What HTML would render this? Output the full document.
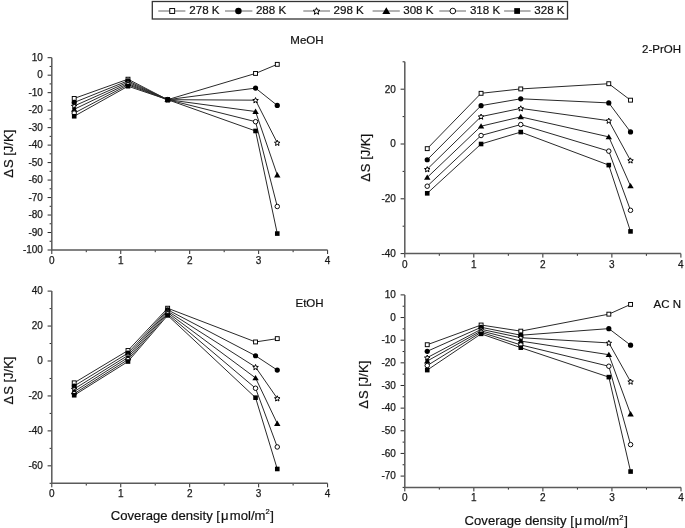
<!DOCTYPE html>
<html><head><meta charset="utf-8"><title>Entropy plots</title>
<style>
html,body{margin:0;padding:0;background:#fff;}
svg{display:block;filter:blur(0.3px);}
text{font-family:"Liberation Sans", sans-serif;}
</style></head><body>

<svg width="685" height="528" viewBox="0 0 685 528">
<rect width="685" height="528" fill="#fff"/>
<g><line x1="47.6" y1="250" x2="51.8" y2="250" stroke="#2a2a2a" stroke-width="1"/><text x="42.9" y="253.3" font-size="10" text-anchor="end" fill="#1a1a1a" stroke="#1a1a1a" stroke-width="0.25">-100</text><line x1="49.6" y1="241.26" x2="51.8" y2="241.26" stroke="#2a2a2a" stroke-width="1"/><line x1="47.6" y1="232.52" x2="51.8" y2="232.52" stroke="#2a2a2a" stroke-width="1"/><text x="42.9" y="235.82" font-size="10" text-anchor="end" fill="#1a1a1a" stroke="#1a1a1a" stroke-width="0.25">-90</text><line x1="49.6" y1="223.78" x2="51.8" y2="223.78" stroke="#2a2a2a" stroke-width="1"/><line x1="47.6" y1="215.04" x2="51.8" y2="215.04" stroke="#2a2a2a" stroke-width="1"/><text x="42.9" y="218.34" font-size="10" text-anchor="end" fill="#1a1a1a" stroke="#1a1a1a" stroke-width="0.25">-80</text><line x1="49.6" y1="206.3" x2="51.8" y2="206.3" stroke="#2a2a2a" stroke-width="1"/><line x1="47.6" y1="197.55" x2="51.8" y2="197.55" stroke="#2a2a2a" stroke-width="1"/><text x="42.9" y="200.85" font-size="10" text-anchor="end" fill="#1a1a1a" stroke="#1a1a1a" stroke-width="0.25">-70</text><line x1="49.6" y1="188.81" x2="51.8" y2="188.81" stroke="#2a2a2a" stroke-width="1"/><line x1="47.6" y1="180.07" x2="51.8" y2="180.07" stroke="#2a2a2a" stroke-width="1"/><text x="42.9" y="183.37" font-size="10" text-anchor="end" fill="#1a1a1a" stroke="#1a1a1a" stroke-width="0.25">-60</text><line x1="49.6" y1="171.33" x2="51.8" y2="171.33" stroke="#2a2a2a" stroke-width="1"/><line x1="47.6" y1="162.59" x2="51.8" y2="162.59" stroke="#2a2a2a" stroke-width="1"/><text x="42.9" y="165.89" font-size="10" text-anchor="end" fill="#1a1a1a" stroke="#1a1a1a" stroke-width="0.25">-50</text><line x1="49.6" y1="153.85" x2="51.8" y2="153.85" stroke="#2a2a2a" stroke-width="1"/><line x1="47.6" y1="145.11" x2="51.8" y2="145.11" stroke="#2a2a2a" stroke-width="1"/><text x="42.9" y="148.41" font-size="10" text-anchor="end" fill="#1a1a1a" stroke="#1a1a1a" stroke-width="0.25">-40</text><line x1="49.6" y1="136.37" x2="51.8" y2="136.37" stroke="#2a2a2a" stroke-width="1"/><line x1="47.6" y1="127.63" x2="51.8" y2="127.63" stroke="#2a2a2a" stroke-width="1"/><text x="42.9" y="130.93" font-size="10" text-anchor="end" fill="#1a1a1a" stroke="#1a1a1a" stroke-width="0.25">-30</text><line x1="49.6" y1="118.89" x2="51.8" y2="118.89" stroke="#2a2a2a" stroke-width="1"/><line x1="47.6" y1="110.15" x2="51.8" y2="110.15" stroke="#2a2a2a" stroke-width="1"/><text x="42.9" y="113.45" font-size="10" text-anchor="end" fill="#1a1a1a" stroke="#1a1a1a" stroke-width="0.25">-20</text><line x1="49.6" y1="101.4" x2="51.8" y2="101.4" stroke="#2a2a2a" stroke-width="1"/><line x1="47.6" y1="92.66" x2="51.8" y2="92.66" stroke="#2a2a2a" stroke-width="1"/><text x="42.9" y="95.96" font-size="10" text-anchor="end" fill="#1a1a1a" stroke="#1a1a1a" stroke-width="0.25">-10</text><line x1="49.6" y1="83.92" x2="51.8" y2="83.92" stroke="#2a2a2a" stroke-width="1"/><line x1="47.6" y1="75.18" x2="51.8" y2="75.18" stroke="#2a2a2a" stroke-width="1"/><text x="42.9" y="78.48" font-size="10" text-anchor="end" fill="#1a1a1a" stroke="#1a1a1a" stroke-width="0.25">0</text><line x1="49.6" y1="66.44" x2="51.8" y2="66.44" stroke="#2a2a2a" stroke-width="1"/><line x1="47.6" y1="57.7" x2="51.8" y2="57.7" stroke="#2a2a2a" stroke-width="1"/><text x="42.9" y="61" font-size="10" text-anchor="end" fill="#1a1a1a" stroke="#1a1a1a" stroke-width="0.25">10</text><line x1="51.8" y1="250" x2="51.8" y2="254" stroke="#2a2a2a" stroke-width="1"/><text x="51.8" y="263.9" font-size="10" text-anchor="middle" fill="#1a1a1a" stroke="#1a1a1a" stroke-width="0.25">0</text><line x1="86.28" y1="250" x2="86.28" y2="252.2" stroke="#2a2a2a" stroke-width="1"/><line x1="120.75" y1="250" x2="120.75" y2="254" stroke="#2a2a2a" stroke-width="1"/><text x="120.75" y="263.9" font-size="10" text-anchor="middle" fill="#1a1a1a" stroke="#1a1a1a" stroke-width="0.25">1</text><line x1="155.23" y1="250" x2="155.23" y2="252.2" stroke="#2a2a2a" stroke-width="1"/><line x1="189.7" y1="250" x2="189.7" y2="254" stroke="#2a2a2a" stroke-width="1"/><text x="189.7" y="263.9" font-size="10" text-anchor="middle" fill="#1a1a1a" stroke="#1a1a1a" stroke-width="0.25">2</text><line x1="224.18" y1="250" x2="224.18" y2="252.2" stroke="#2a2a2a" stroke-width="1"/><line x1="258.65" y1="250" x2="258.65" y2="254" stroke="#2a2a2a" stroke-width="1"/><text x="258.65" y="263.9" font-size="10" text-anchor="middle" fill="#1a1a1a" stroke="#1a1a1a" stroke-width="0.25">3</text><line x1="293.12" y1="250" x2="293.12" y2="252.2" stroke="#2a2a2a" stroke-width="1"/><line x1="327.6" y1="250" x2="327.6" y2="254" stroke="#2a2a2a" stroke-width="1"/><text x="327.6" y="263.9" font-size="10" text-anchor="middle" fill="#1a1a1a" stroke="#1a1a1a" stroke-width="0.25">4</text><path d="M51.8 57.7 V250 H327.6" fill="none" stroke="#5a5a5a" stroke-width="1.5"/><polyline points="74.21,98.43 127.99,79.2 167.64,99.66 255.55,73.43 277.27,64.34" fill="none" stroke="#2a2a2a" stroke-width="1.0"/><polyline points="74.21,102.45 127.99,80.78 167.64,99.66 255.55,88.12 277.27,105.43" fill="none" stroke="#2a2a2a" stroke-width="1.0"/><polyline points="74.21,105.95 127.99,82.17 167.64,99.66 255.55,100.18 277.27,142.84" fill="none" stroke="#2a2a2a" stroke-width="1.0"/><polyline points="74.21,109.27 127.99,83.57 167.64,99.66 255.55,111.54 277.27,175" fill="none" stroke="#2a2a2a" stroke-width="1.0"/><polyline points="74.21,113.12 127.99,84.8 167.64,99.66 255.55,121.68 277.27,206.47" fill="none" stroke="#2a2a2a" stroke-width="1.0"/><polyline points="74.21,116.26 127.99,86.2 167.64,99.66 255.55,130.95 277.27,233.57" fill="none" stroke="#2a2a2a" stroke-width="1.0"/><rect x="72.26" y="96.48" width="3.9" height="3.9" fill="#fff" stroke="#000" stroke-width="0.95"/><rect x="126.04" y="77.25" width="3.9" height="3.9" fill="#fff" stroke="#000" stroke-width="0.95"/><rect x="165.69" y="97.71" width="3.9" height="3.9" fill="#fff" stroke="#000" stroke-width="0.95"/><rect x="253.6" y="71.48" width="3.9" height="3.9" fill="#fff" stroke="#000" stroke-width="0.95"/><rect x="275.32" y="62.39" width="3.9" height="3.9" fill="#fff" stroke="#000" stroke-width="0.95"/><circle cx="74.21" cy="102.45" r="2.6" fill="#000"/><circle cx="127.99" cy="80.78" r="2.6" fill="#000"/><circle cx="167.64" cy="99.66" r="2.6" fill="#000"/><circle cx="255.55" cy="88.12" r="2.6" fill="#000"/><circle cx="277.27" cy="105.43" r="2.6" fill="#000"/><polygon points="74.21,103.35 74.98,105.19 76.97,105.35 75.45,106.65 75.91,108.6 74.21,107.55 72.5,108.6 72.97,106.65 71.45,105.35 73.44,105.19" fill="#fff" stroke="#000" stroke-width="1.0"/><polygon points="127.99,79.57 128.76,81.42 130.75,81.58 129.23,82.88 129.69,84.82 127.99,83.78 126.29,84.82 126.75,82.88 125.23,81.58 127.22,81.42" fill="#fff" stroke="#000" stroke-width="1.0"/><polygon points="167.64,97.06 168.4,98.9 170.39,99.06 168.88,100.36 169.34,102.3 167.64,101.26 165.93,102.3 166.39,100.36 164.88,99.06 166.87,98.9" fill="#fff" stroke="#000" stroke-width="1.0"/><polygon points="255.55,97.58 256.31,99.43 258.31,99.58 256.79,100.88 257.25,102.83 255.55,101.79 253.84,102.83 254.31,100.88 252.79,99.58 254.78,99.43" fill="#fff" stroke="#000" stroke-width="1.0"/><polygon points="277.27,140.24 278.03,142.08 280.02,142.24 278.51,143.54 278.97,145.48 277.27,144.44 275.56,145.48 276.03,143.54 274.51,142.24 276.5,142.08" fill="#fff" stroke="#000" stroke-width="1.0"/><polygon points="74.21,106.27 77.41,111.67 71.01,111.67" fill="#000"/><polygon points="127.99,80.57 131.19,85.97 124.79,85.97" fill="#000"/><polygon points="167.64,96.66 170.84,102.06 164.44,102.06" fill="#000"/><polygon points="255.55,108.54 258.75,113.94 252.35,113.94" fill="#000"/><polygon points="277.27,172 280.47,177.4 274.07,177.4" fill="#000"/><circle cx="74.21" cy="113.12" r="2.25" fill="#fff" stroke="#000" stroke-width="0.95"/><circle cx="127.99" cy="84.8" r="2.25" fill="#fff" stroke="#000" stroke-width="0.95"/><circle cx="167.64" cy="99.66" r="2.25" fill="#fff" stroke="#000" stroke-width="0.95"/><circle cx="255.55" cy="121.68" r="2.25" fill="#fff" stroke="#000" stroke-width="0.95"/><circle cx="277.27" cy="206.47" r="2.25" fill="#fff" stroke="#000" stroke-width="0.95"/><rect x="71.91" y="113.96" width="4.6" height="4.6" fill="#000"/><rect x="125.69" y="83.9" width="4.6" height="4.6" fill="#000"/><rect x="165.34" y="97.36" width="4.6" height="4.6" fill="#000"/><rect x="253.25" y="128.65" width="4.6" height="4.6" fill="#000"/><rect x="274.97" y="231.27" width="4.6" height="4.6" fill="#000"/><text x="323.6" y="44" font-size="11.5" text-anchor="end" fill="#111" stroke="#111" stroke-width="0.2">MeOH</text><text transform="translate(12.7 153.7) rotate(-90)" font-size="13" text-anchor="middle" fill="#111" stroke="#111" stroke-width="0.2">Δ<tspan dx="0.9">S [J/K]</tspan></text></g>
<g><line x1="400.6" y1="253.6" x2="404.8" y2="253.6" stroke="#2a2a2a" stroke-width="1"/><text x="395.9" y="256.9" font-size="10" text-anchor="end" fill="#1a1a1a" stroke="#1a1a1a" stroke-width="0.25">-40</text><line x1="402.6" y1="226.2" x2="404.8" y2="226.2" stroke="#2a2a2a" stroke-width="1"/><line x1="400.6" y1="198.8" x2="404.8" y2="198.8" stroke="#2a2a2a" stroke-width="1"/><text x="395.9" y="202.1" font-size="10" text-anchor="end" fill="#1a1a1a" stroke="#1a1a1a" stroke-width="0.25">-20</text><line x1="402.6" y1="171.4" x2="404.8" y2="171.4" stroke="#2a2a2a" stroke-width="1"/><line x1="400.6" y1="144" x2="404.8" y2="144" stroke="#2a2a2a" stroke-width="1"/><text x="395.9" y="147.3" font-size="10" text-anchor="end" fill="#1a1a1a" stroke="#1a1a1a" stroke-width="0.25">0</text><line x1="402.6" y1="116.6" x2="404.8" y2="116.6" stroke="#2a2a2a" stroke-width="1"/><line x1="400.6" y1="89.2" x2="404.8" y2="89.2" stroke="#2a2a2a" stroke-width="1"/><text x="395.9" y="92.5" font-size="10" text-anchor="end" fill="#1a1a1a" stroke="#1a1a1a" stroke-width="0.25">20</text><line x1="402.6" y1="61.8" x2="404.8" y2="61.8" stroke="#2a2a2a" stroke-width="1"/><line x1="404.8" y1="253.6" x2="404.8" y2="257.6" stroke="#2a2a2a" stroke-width="1"/><text x="404.8" y="267.5" font-size="10" text-anchor="middle" fill="#1a1a1a" stroke="#1a1a1a" stroke-width="0.25">0</text><line x1="439.31" y1="253.6" x2="439.31" y2="255.8" stroke="#2a2a2a" stroke-width="1"/><line x1="473.82" y1="253.6" x2="473.82" y2="257.6" stroke="#2a2a2a" stroke-width="1"/><text x="473.82" y="267.5" font-size="10" text-anchor="middle" fill="#1a1a1a" stroke="#1a1a1a" stroke-width="0.25">1</text><line x1="508.34" y1="253.6" x2="508.34" y2="255.8" stroke="#2a2a2a" stroke-width="1"/><line x1="542.85" y1="253.6" x2="542.85" y2="257.6" stroke="#2a2a2a" stroke-width="1"/><text x="542.85" y="267.5" font-size="10" text-anchor="middle" fill="#1a1a1a" stroke="#1a1a1a" stroke-width="0.25">2</text><line x1="577.36" y1="253.6" x2="577.36" y2="255.8" stroke="#2a2a2a" stroke-width="1"/><line x1="611.88" y1="253.6" x2="611.88" y2="257.6" stroke="#2a2a2a" stroke-width="1"/><text x="611.88" y="267.5" font-size="10" text-anchor="middle" fill="#1a1a1a" stroke="#1a1a1a" stroke-width="0.25">3</text><line x1="646.39" y1="253.6" x2="646.39" y2="255.8" stroke="#2a2a2a" stroke-width="1"/><line x1="680.9" y1="253.6" x2="680.9" y2="257.6" stroke="#2a2a2a" stroke-width="1"/><text x="680.9" y="267.5" font-size="10" text-anchor="middle" fill="#1a1a1a" stroke="#1a1a1a" stroke-width="0.25">4</text><path d="M404.8 61.8 V253.6 H680.9" fill="none" stroke="#5a5a5a" stroke-width="1.5"/><polyline points="427.23,148.66 481.07,93.31 520.76,88.93 608.77,83.72 630.51,100.16" fill="none" stroke="#2a2a2a" stroke-width="1.0"/><polyline points="427.23,159.75 481.07,105.64 520.76,98.79 608.77,102.9 630.51,131.94" fill="none" stroke="#2a2a2a" stroke-width="1.0"/><polyline points="427.23,169.21 481.07,116.6 520.76,108.38 608.77,120.71 630.51,160.44" fill="none" stroke="#2a2a2a" stroke-width="1.0"/><polyline points="427.23,177.43 481.07,126.19 520.76,116.87 608.77,136.88 630.51,185.92" fill="none" stroke="#2a2a2a" stroke-width="1.0"/><polyline points="427.23,186.2 481.07,135.51 520.76,124.55 608.77,151.12 630.51,210.31" fill="none" stroke="#2a2a2a" stroke-width="1.0"/><polyline points="427.23,193.32 481.07,144 520.76,132.08 608.77,165.1 630.51,231.41" fill="none" stroke="#2a2a2a" stroke-width="1.0"/><rect x="425.28" y="146.71" width="3.9" height="3.9" fill="#fff" stroke="#000" stroke-width="0.95"/><rect x="479.12" y="91.36" width="3.9" height="3.9" fill="#fff" stroke="#000" stroke-width="0.95"/><rect x="518.81" y="86.98" width="3.9" height="3.9" fill="#fff" stroke="#000" stroke-width="0.95"/><rect x="606.82" y="81.77" width="3.9" height="3.9" fill="#fff" stroke="#000" stroke-width="0.95"/><rect x="628.56" y="98.21" width="3.9" height="3.9" fill="#fff" stroke="#000" stroke-width="0.95"/><circle cx="427.23" cy="159.75" r="2.6" fill="#000"/><circle cx="481.07" cy="105.64" r="2.6" fill="#000"/><circle cx="520.76" cy="98.79" r="2.6" fill="#000"/><circle cx="608.77" cy="102.9" r="2.6" fill="#000"/><circle cx="630.51" cy="131.94" r="2.6" fill="#000"/><polygon points="427.23,166.61 428,168.45 429.99,168.61 428.47,169.91 428.94,171.85 427.23,170.81 425.53,171.85 425.99,169.91 424.48,168.61 426.47,168.45" fill="#fff" stroke="#000" stroke-width="1.0"/><polygon points="481.07,114 481.84,115.84 483.83,116 482.31,117.3 482.78,119.25 481.07,118.2 479.37,119.25 479.83,117.3 478.31,116 480.31,115.84" fill="#fff" stroke="#000" stroke-width="1.0"/><polygon points="520.76,105.78 521.53,107.62 523.52,107.78 522,109.08 522.47,111.03 520.76,109.98 519.06,111.03 519.52,109.08 518,107.78 519.99,107.62" fill="#fff" stroke="#000" stroke-width="1.0"/><polygon points="608.77,118.11 609.54,119.95 611.53,120.11 610.01,121.41 610.47,123.36 608.77,122.31 607.06,123.36 607.53,121.41 606.01,120.11 608,119.95" fill="#fff" stroke="#000" stroke-width="1.0"/><polygon points="630.51,157.84 631.28,159.68 633.27,159.84 631.75,161.14 632.22,163.09 630.51,162.05 628.81,163.09 629.27,161.14 627.75,159.84 629.74,159.68" fill="#fff" stroke="#000" stroke-width="1.0"/><polygon points="427.23,174.43 430.43,179.83 424.03,179.83" fill="#000"/><polygon points="481.07,123.19 484.27,128.59 477.87,128.59" fill="#000"/><polygon points="520.76,113.87 523.96,119.27 517.56,119.27" fill="#000"/><polygon points="608.77,133.88 611.97,139.28 605.57,139.28" fill="#000"/><polygon points="630.51,182.92 633.71,188.32 627.31,188.32" fill="#000"/><circle cx="427.23" cy="186.2" r="2.25" fill="#fff" stroke="#000" stroke-width="0.95"/><circle cx="481.07" cy="135.51" r="2.25" fill="#fff" stroke="#000" stroke-width="0.95"/><circle cx="520.76" cy="124.55" r="2.25" fill="#fff" stroke="#000" stroke-width="0.95"/><circle cx="608.77" cy="151.12" r="2.25" fill="#fff" stroke="#000" stroke-width="0.95"/><circle cx="630.51" cy="210.31" r="2.25" fill="#fff" stroke="#000" stroke-width="0.95"/><rect x="424.93" y="191.02" width="4.6" height="4.6" fill="#000"/><rect x="478.77" y="141.7" width="4.6" height="4.6" fill="#000"/><rect x="518.46" y="129.78" width="4.6" height="4.6" fill="#000"/><rect x="606.47" y="162.8" width="4.6" height="4.6" fill="#000"/><rect x="628.21" y="229.11" width="4.6" height="4.6" fill="#000"/><text x="681" y="52.7" font-size="11.5" text-anchor="end" fill="#111" stroke="#111" stroke-width="0.2">2-PrOH</text><text transform="translate(369.6 157.8) rotate(-90)" font-size="13" text-anchor="middle" fill="#111" stroke="#111" stroke-width="0.2">Δ<tspan dx="0.9">S [J/K]</tspan></text></g>
<g><line x1="49.6" y1="483.3" x2="51.8" y2="483.3" stroke="#2a2a2a" stroke-width="1"/><line x1="47.6" y1="465.83" x2="51.8" y2="465.83" stroke="#2a2a2a" stroke-width="1"/><text x="42.9" y="469.13" font-size="10" text-anchor="end" fill="#1a1a1a" stroke="#1a1a1a" stroke-width="0.25">-60</text><line x1="49.6" y1="448.35" x2="51.8" y2="448.35" stroke="#2a2a2a" stroke-width="1"/><line x1="47.6" y1="430.88" x2="51.8" y2="430.88" stroke="#2a2a2a" stroke-width="1"/><text x="42.9" y="434.18" font-size="10" text-anchor="end" fill="#1a1a1a" stroke="#1a1a1a" stroke-width="0.25">-40</text><line x1="49.6" y1="413.41" x2="51.8" y2="413.41" stroke="#2a2a2a" stroke-width="1"/><line x1="47.6" y1="395.94" x2="51.8" y2="395.94" stroke="#2a2a2a" stroke-width="1"/><text x="42.9" y="399.24" font-size="10" text-anchor="end" fill="#1a1a1a" stroke="#1a1a1a" stroke-width="0.25">-20</text><line x1="49.6" y1="378.46" x2="51.8" y2="378.46" stroke="#2a2a2a" stroke-width="1"/><line x1="47.6" y1="360.99" x2="51.8" y2="360.99" stroke="#2a2a2a" stroke-width="1"/><text x="42.9" y="364.29" font-size="10" text-anchor="end" fill="#1a1a1a" stroke="#1a1a1a" stroke-width="0.25">0</text><line x1="49.6" y1="343.52" x2="51.8" y2="343.52" stroke="#2a2a2a" stroke-width="1"/><line x1="47.6" y1="326.05" x2="51.8" y2="326.05" stroke="#2a2a2a" stroke-width="1"/><text x="42.9" y="329.35" font-size="10" text-anchor="end" fill="#1a1a1a" stroke="#1a1a1a" stroke-width="0.25">20</text><line x1="49.6" y1="308.57" x2="51.8" y2="308.57" stroke="#2a2a2a" stroke-width="1"/><line x1="47.6" y1="291.1" x2="51.8" y2="291.1" stroke="#2a2a2a" stroke-width="1"/><text x="42.9" y="294.4" font-size="10" text-anchor="end" fill="#1a1a1a" stroke="#1a1a1a" stroke-width="0.25">40</text><line x1="51.8" y1="483.3" x2="51.8" y2="487.3" stroke="#2a2a2a" stroke-width="1"/><text x="51.8" y="497.2" font-size="10" text-anchor="middle" fill="#1a1a1a" stroke="#1a1a1a" stroke-width="0.25">0</text><line x1="86.28" y1="483.3" x2="86.28" y2="485.5" stroke="#2a2a2a" stroke-width="1"/><line x1="120.75" y1="483.3" x2="120.75" y2="487.3" stroke="#2a2a2a" stroke-width="1"/><text x="120.75" y="497.2" font-size="10" text-anchor="middle" fill="#1a1a1a" stroke="#1a1a1a" stroke-width="0.25">1</text><line x1="155.23" y1="483.3" x2="155.23" y2="485.5" stroke="#2a2a2a" stroke-width="1"/><line x1="189.7" y1="483.3" x2="189.7" y2="487.3" stroke="#2a2a2a" stroke-width="1"/><text x="189.7" y="497.2" font-size="10" text-anchor="middle" fill="#1a1a1a" stroke="#1a1a1a" stroke-width="0.25">2</text><line x1="224.18" y1="483.3" x2="224.18" y2="485.5" stroke="#2a2a2a" stroke-width="1"/><line x1="258.65" y1="483.3" x2="258.65" y2="487.3" stroke="#2a2a2a" stroke-width="1"/><text x="258.65" y="497.2" font-size="10" text-anchor="middle" fill="#1a1a1a" stroke="#1a1a1a" stroke-width="0.25">3</text><line x1="293.12" y1="483.3" x2="293.12" y2="485.5" stroke="#2a2a2a" stroke-width="1"/><line x1="327.6" y1="483.3" x2="327.6" y2="487.3" stroke="#2a2a2a" stroke-width="1"/><text x="327.6" y="497.2" font-size="10" text-anchor="middle" fill="#1a1a1a" stroke="#1a1a1a" stroke-width="0.25">4</text><path d="M51.8 291.1 V483.3 H327.6" fill="none" stroke="#5a5a5a" stroke-width="1.5"/><polyline points="74.21,382.83 127.99,350.51 167.64,308.22 255.55,341.95 277.27,338.63" fill="none" stroke="#2a2a2a" stroke-width="1.0"/><polyline points="74.21,385.98 127.99,353.13 167.64,309.8 255.55,355.75 277.27,370.08" fill="none" stroke="#2a2a2a" stroke-width="1.0"/><polyline points="74.21,388.95 127.99,355.4 167.64,311.19 255.55,367.11 277.27,398.38" fill="none" stroke="#2a2a2a" stroke-width="1.0"/><polyline points="74.21,391.57 127.99,357.5 167.64,312.59 255.55,377.94 277.27,423.54" fill="none" stroke="#2a2a2a" stroke-width="1.0"/><polyline points="74.21,393.66 127.99,359.59 167.64,313.99 255.55,388.25 277.27,446.96" fill="none" stroke="#2a2a2a" stroke-width="1.0"/><polyline points="74.21,395.24 127.99,361.52 167.64,315.39 255.55,397.68 277.27,468.97" fill="none" stroke="#2a2a2a" stroke-width="1.0"/><rect x="72.26" y="380.88" width="3.9" height="3.9" fill="#fff" stroke="#000" stroke-width="0.95"/><rect x="126.04" y="348.56" width="3.9" height="3.9" fill="#fff" stroke="#000" stroke-width="0.95"/><rect x="165.69" y="306.27" width="3.9" height="3.9" fill="#fff" stroke="#000" stroke-width="0.95"/><rect x="253.6" y="340" width="3.9" height="3.9" fill="#fff" stroke="#000" stroke-width="0.95"/><rect x="275.32" y="336.68" width="3.9" height="3.9" fill="#fff" stroke="#000" stroke-width="0.95"/><circle cx="74.21" cy="385.98" r="2.6" fill="#000"/><circle cx="127.99" cy="353.13" r="2.6" fill="#000"/><circle cx="167.64" cy="309.8" r="2.6" fill="#000"/><circle cx="255.55" cy="355.75" r="2.6" fill="#000"/><circle cx="277.27" cy="370.08" r="2.6" fill="#000"/><polygon points="74.21,386.35 74.98,388.19 76.97,388.35 75.45,389.65 75.91,391.59 74.21,390.55 72.5,391.59 72.97,389.65 71.45,388.35 73.44,388.19" fill="#fff" stroke="#000" stroke-width="1.0"/><polygon points="127.99,352.8 128.76,354.64 130.75,354.8 129.23,356.1 129.69,358.05 127.99,357 126.29,358.05 126.75,356.1 125.23,354.8 127.22,354.64" fill="#fff" stroke="#000" stroke-width="1.0"/><polygon points="167.64,308.59 168.4,310.44 170.39,310.6 168.88,311.9 169.34,313.84 167.64,312.8 165.93,313.84 166.39,311.9 164.88,310.6 166.87,310.44" fill="#fff" stroke="#000" stroke-width="1.0"/><polygon points="255.55,364.51 256.31,366.35 258.31,366.51 256.79,367.81 257.25,369.75 255.55,368.71 253.84,369.75 254.31,367.81 252.79,366.51 254.78,366.35" fill="#fff" stroke="#000" stroke-width="1.0"/><polygon points="277.27,395.78 278.03,397.63 280.02,397.79 278.51,399.09 278.97,401.03 277.27,399.99 275.56,401.03 276.03,399.09 274.51,397.79 276.5,397.63" fill="#fff" stroke="#000" stroke-width="1.0"/><polygon points="74.21,388.57 77.41,393.97 71.01,393.97" fill="#000"/><polygon points="127.99,354.5 131.19,359.9 124.79,359.9" fill="#000"/><polygon points="167.64,309.59 170.84,314.99 164.44,314.99" fill="#000"/><polygon points="255.55,374.94 258.75,380.34 252.35,380.34" fill="#000"/><polygon points="277.27,420.54 280.47,425.94 274.07,425.94" fill="#000"/><circle cx="74.21" cy="393.66" r="2.25" fill="#fff" stroke="#000" stroke-width="0.95"/><circle cx="127.99" cy="359.59" r="2.25" fill="#fff" stroke="#000" stroke-width="0.95"/><circle cx="167.64" cy="313.99" r="2.25" fill="#fff" stroke="#000" stroke-width="0.95"/><circle cx="255.55" cy="388.25" r="2.25" fill="#fff" stroke="#000" stroke-width="0.95"/><circle cx="277.27" cy="446.96" r="2.25" fill="#fff" stroke="#000" stroke-width="0.95"/><rect x="71.91" y="392.94" width="4.6" height="4.6" fill="#000"/><rect x="125.69" y="359.22" width="4.6" height="4.6" fill="#000"/><rect x="165.34" y="313.09" width="4.6" height="4.6" fill="#000"/><rect x="253.25" y="395.38" width="4.6" height="4.6" fill="#000"/><rect x="274.97" y="466.67" width="4.6" height="4.6" fill="#000"/><text x="323.6" y="307" font-size="11.5" text-anchor="end" fill="#111" stroke="#111" stroke-width="0.2">EtOH</text><text transform="translate(13 380.5) rotate(-90)" font-size="13" text-anchor="middle" fill="#111" stroke="#111" stroke-width="0.2">Δ<tspan dx="0.9">S [J/K]</tspan></text><text x="110.8" y="519.6" font-size="13.1" fill="#111" stroke="#111" stroke-width="0.2">Coverage density [<tspan dx="0.9">μ</tspan><tspan dx="1.4">mol/m</tspan><tspan font-size="7.6" dy="-5.2">2</tspan><tspan dy="5.2" dx="0.6">]</tspan></text></g>
<g><line x1="402.6" y1="487.4" x2="404.8" y2="487.4" stroke="#2a2a2a" stroke-width="1"/><line x1="400.6" y1="476.08" x2="404.8" y2="476.08" stroke="#2a2a2a" stroke-width="1"/><text x="395.9" y="479.38" font-size="10" text-anchor="end" fill="#1a1a1a" stroke="#1a1a1a" stroke-width="0.25">-70</text><line x1="402.6" y1="464.75" x2="404.8" y2="464.75" stroke="#2a2a2a" stroke-width="1"/><line x1="400.6" y1="453.43" x2="404.8" y2="453.43" stroke="#2a2a2a" stroke-width="1"/><text x="395.9" y="456.73" font-size="10" text-anchor="end" fill="#1a1a1a" stroke="#1a1a1a" stroke-width="0.25">-60</text><line x1="402.6" y1="442.11" x2="404.8" y2="442.11" stroke="#2a2a2a" stroke-width="1"/><line x1="400.6" y1="430.78" x2="404.8" y2="430.78" stroke="#2a2a2a" stroke-width="1"/><text x="395.9" y="434.08" font-size="10" text-anchor="end" fill="#1a1a1a" stroke="#1a1a1a" stroke-width="0.25">-50</text><line x1="402.6" y1="419.46" x2="404.8" y2="419.46" stroke="#2a2a2a" stroke-width="1"/><line x1="400.6" y1="408.14" x2="404.8" y2="408.14" stroke="#2a2a2a" stroke-width="1"/><text x="395.9" y="411.44" font-size="10" text-anchor="end" fill="#1a1a1a" stroke="#1a1a1a" stroke-width="0.25">-40</text><line x1="402.6" y1="396.81" x2="404.8" y2="396.81" stroke="#2a2a2a" stroke-width="1"/><line x1="400.6" y1="385.49" x2="404.8" y2="385.49" stroke="#2a2a2a" stroke-width="1"/><text x="395.9" y="388.79" font-size="10" text-anchor="end" fill="#1a1a1a" stroke="#1a1a1a" stroke-width="0.25">-30</text><line x1="402.6" y1="374.16" x2="404.8" y2="374.16" stroke="#2a2a2a" stroke-width="1"/><line x1="400.6" y1="362.84" x2="404.8" y2="362.84" stroke="#2a2a2a" stroke-width="1"/><text x="395.9" y="366.14" font-size="10" text-anchor="end" fill="#1a1a1a" stroke="#1a1a1a" stroke-width="0.25">-20</text><line x1="402.6" y1="351.52" x2="404.8" y2="351.52" stroke="#2a2a2a" stroke-width="1"/><line x1="400.6" y1="340.19" x2="404.8" y2="340.19" stroke="#2a2a2a" stroke-width="1"/><text x="395.9" y="343.49" font-size="10" text-anchor="end" fill="#1a1a1a" stroke="#1a1a1a" stroke-width="0.25">-10</text><line x1="402.6" y1="328.87" x2="404.8" y2="328.87" stroke="#2a2a2a" stroke-width="1"/><line x1="400.6" y1="317.55" x2="404.8" y2="317.55" stroke="#2a2a2a" stroke-width="1"/><text x="395.9" y="320.85" font-size="10" text-anchor="end" fill="#1a1a1a" stroke="#1a1a1a" stroke-width="0.25">0</text><line x1="402.6" y1="306.22" x2="404.8" y2="306.22" stroke="#2a2a2a" stroke-width="1"/><line x1="400.6" y1="294.9" x2="404.8" y2="294.9" stroke="#2a2a2a" stroke-width="1"/><text x="395.9" y="298.2" font-size="10" text-anchor="end" fill="#1a1a1a" stroke="#1a1a1a" stroke-width="0.25">10</text><line x1="404.8" y1="487.4" x2="404.8" y2="491.4" stroke="#2a2a2a" stroke-width="1"/><text x="404.8" y="501.3" font-size="10" text-anchor="middle" fill="#1a1a1a" stroke="#1a1a1a" stroke-width="0.25">0</text><line x1="439.32" y1="487.4" x2="439.32" y2="489.6" stroke="#2a2a2a" stroke-width="1"/><line x1="473.85" y1="487.4" x2="473.85" y2="491.4" stroke="#2a2a2a" stroke-width="1"/><text x="473.85" y="501.3" font-size="10" text-anchor="middle" fill="#1a1a1a" stroke="#1a1a1a" stroke-width="0.25">1</text><line x1="508.38" y1="487.4" x2="508.38" y2="489.6" stroke="#2a2a2a" stroke-width="1"/><line x1="542.9" y1="487.4" x2="542.9" y2="491.4" stroke="#2a2a2a" stroke-width="1"/><text x="542.9" y="501.3" font-size="10" text-anchor="middle" fill="#1a1a1a" stroke="#1a1a1a" stroke-width="0.25">2</text><line x1="577.42" y1="487.4" x2="577.42" y2="489.6" stroke="#2a2a2a" stroke-width="1"/><line x1="611.95" y1="487.4" x2="611.95" y2="491.4" stroke="#2a2a2a" stroke-width="1"/><text x="611.95" y="501.3" font-size="10" text-anchor="middle" fill="#1a1a1a" stroke="#1a1a1a" stroke-width="0.25">3</text><line x1="646.48" y1="487.4" x2="646.48" y2="489.6" stroke="#2a2a2a" stroke-width="1"/><line x1="681" y1="487.4" x2="681" y2="491.4" stroke="#2a2a2a" stroke-width="1"/><text x="681" y="501.3" font-size="10" text-anchor="middle" fill="#1a1a1a" stroke="#1a1a1a" stroke-width="0.25">4</text><path d="M404.8 294.9 V487.4 H681" fill="none" stroke="#5a5a5a" stroke-width="1.5"/><polyline points="427.24,344.72 481.1,325.02 520.8,331.14 608.84,314.15 630.59,304.41" fill="none" stroke="#2a2a2a" stroke-width="1.0"/><polyline points="427.24,351.29 481.1,327.29 520.8,335.21 608.84,328.64 630.59,345.18" fill="none" stroke="#2a2a2a" stroke-width="1.0"/><polyline points="427.24,357.63 481.1,329.32 520.8,337.7 608.84,342.91 630.59,381.64" fill="none" stroke="#2a2a2a" stroke-width="1.0"/><polyline points="427.24,361.03 481.1,330.91 520.8,341.1 608.84,354.69 630.59,414.02" fill="none" stroke="#2a2a2a" stroke-width="1.0"/><polyline points="427.24,365.56 481.1,332.27 520.8,344.95 608.84,366.24 630.59,444.6" fill="none" stroke="#2a2a2a" stroke-width="1.0"/><polyline points="427.24,370.09 481.1,333.85 520.8,347.67 608.84,377.11 630.59,471.55" fill="none" stroke="#2a2a2a" stroke-width="1.0"/><rect x="425.29" y="342.77" width="3.9" height="3.9" fill="#fff" stroke="#000" stroke-width="0.95"/><rect x="479.15" y="323.07" width="3.9" height="3.9" fill="#fff" stroke="#000" stroke-width="0.95"/><rect x="518.85" y="329.19" width="3.9" height="3.9" fill="#fff" stroke="#000" stroke-width="0.95"/><rect x="606.89" y="312.2" width="3.9" height="3.9" fill="#fff" stroke="#000" stroke-width="0.95"/><rect x="628.64" y="302.46" width="3.9" height="3.9" fill="#fff" stroke="#000" stroke-width="0.95"/><circle cx="427.24" cy="351.29" r="2.6" fill="#000"/><circle cx="481.1" cy="327.29" r="2.6" fill="#000"/><circle cx="520.8" cy="335.21" r="2.6" fill="#000"/><circle cx="608.84" cy="328.64" r="2.6" fill="#000"/><circle cx="630.59" cy="345.18" r="2.6" fill="#000"/><polygon points="427.24,355.03 428.01,356.88 430,357.04 428.48,358.34 428.95,360.28 427.24,359.24 425.54,360.28 426,358.34 424.48,357.04 426.47,356.88" fill="#fff" stroke="#000" stroke-width="1.0"/><polygon points="481.1,326.72 481.87,328.57 483.86,328.73 482.34,330.03 482.8,331.97 481.1,330.93 479.4,331.97 479.86,330.03 478.34,328.73 480.33,328.57" fill="#fff" stroke="#000" stroke-width="1.0"/><polygon points="520.8,335.1 521.57,336.95 523.56,337.11 522.05,338.41 522.51,340.35 520.8,339.31 519.1,340.35 519.56,338.41 518.05,337.11 520.04,336.95" fill="#fff" stroke="#000" stroke-width="1.0"/><polygon points="608.84,340.31 609.61,342.16 611.6,342.32 610.08,343.62 610.55,345.56 608.84,344.52 607.14,345.56 607.6,343.62 606.08,342.32 608.08,342.16" fill="#fff" stroke="#000" stroke-width="1.0"/><polygon points="630.59,379.04 631.36,380.88 633.35,381.04 631.83,382.34 632.3,384.28 630.59,383.24 628.89,384.28 629.35,382.34 627.84,381.04 629.83,380.88" fill="#fff" stroke="#000" stroke-width="1.0"/><polygon points="427.24,358.03 430.44,363.43 424.04,363.43" fill="#000"/><polygon points="481.1,327.91 484.3,333.31 477.9,333.31" fill="#000"/><polygon points="520.8,338.1 524,343.5 517.6,343.5" fill="#000"/><polygon points="608.84,351.69 612.04,357.09 605.64,357.09" fill="#000"/><polygon points="630.59,411.02 633.79,416.42 627.39,416.42" fill="#000"/><circle cx="427.24" cy="365.56" r="2.25" fill="#fff" stroke="#000" stroke-width="0.95"/><circle cx="481.1" cy="332.27" r="2.25" fill="#fff" stroke="#000" stroke-width="0.95"/><circle cx="520.8" cy="344.95" r="2.25" fill="#fff" stroke="#000" stroke-width="0.95"/><circle cx="608.84" cy="366.24" r="2.25" fill="#fff" stroke="#000" stroke-width="0.95"/><circle cx="630.59" cy="444.6" r="2.25" fill="#fff" stroke="#000" stroke-width="0.95"/><rect x="424.94" y="367.79" width="4.6" height="4.6" fill="#000"/><rect x="478.8" y="331.55" width="4.6" height="4.6" fill="#000"/><rect x="518.5" y="345.37" width="4.6" height="4.6" fill="#000"/><rect x="606.54" y="374.81" width="4.6" height="4.6" fill="#000"/><rect x="628.29" y="469.25" width="4.6" height="4.6" fill="#000"/><text x="681" y="308.4" font-size="11.5" text-anchor="end" fill="#111" stroke="#111" stroke-width="0.2">AC N</text><text transform="translate(368.4 384.7) rotate(-90)" font-size="13" text-anchor="middle" fill="#111" stroke="#111" stroke-width="0.2">Δ<tspan dx="0.9">S [J/K]</tspan></text><text x="464.6" y="524.7" font-size="13.1" fill="#111" stroke="#111" stroke-width="0.2">Coverage density [<tspan dx="0.9">μ</tspan><tspan dx="1.4">mol/m</tspan><tspan font-size="7.6" dy="-5.2">2</tspan><tspan dy="5.2" dx="0.6">]</tspan></text></g>
<g><rect x="152.3" y="1.5" width="415.2" height="17.5" fill="#fff" stroke="#333" stroke-width="1.3"/><line x1="158.3" y1="11" x2="185.4" y2="11" stroke="#555" stroke-width="0.9"/><rect x="169.76" y="8.56" width="4.88" height="4.88" fill="#fff" stroke="#000" stroke-width="0.95"/><text x="189.3" y="14" font-size="11.6" fill="#111" stroke="#111" stroke-width="0.2">278 K</text><line x1="225" y1="11" x2="252.4" y2="11" stroke="#555" stroke-width="0.9"/><circle cx="238.4" cy="11" r="3.25" fill="#000"/><text x="255.9" y="14" font-size="11.6" fill="#111" stroke="#111" stroke-width="0.2">288 K</text><line x1="303.3" y1="11" x2="330" y2="11" stroke="#555" stroke-width="0.9"/><polygon points="316.5,7.75 317.46,10.06 319.95,10.25 318.05,11.88 318.63,14.31 316.5,13.01 314.37,14.31 314.95,11.88 313.05,10.25 315.54,10.06" fill="#fff" stroke="#000" stroke-width="1.0"/><text x="333.5" y="14" font-size="11.6" fill="#111" stroke="#111" stroke-width="0.2">298 K</text><line x1="372.6" y1="11" x2="399.8" y2="11" stroke="#555" stroke-width="0.9"/><polygon points="386.3,7.25 390.3,14 382.3,14" fill="#000"/><text x="403.2" y="14" font-size="11.6" fill="#111" stroke="#111" stroke-width="0.2">308 K</text><line x1="439.3" y1="11" x2="466" y2="11" stroke="#555" stroke-width="0.9"/><circle cx="452.8" cy="11" r="2.81" fill="#fff" stroke="#000" stroke-width="0.95"/><text x="469.9" y="14" font-size="11.6" fill="#111" stroke="#111" stroke-width="0.2">318 K</text><line x1="504.1" y1="11" x2="530.6" y2="11" stroke="#555" stroke-width="0.9"/><rect x="514.23" y="8.12" width="5.75" height="5.75" fill="#000"/><text x="534.3" y="14" font-size="11.6" fill="#111" stroke="#111" stroke-width="0.2">328 K</text></g>
</svg>
</body></html>
